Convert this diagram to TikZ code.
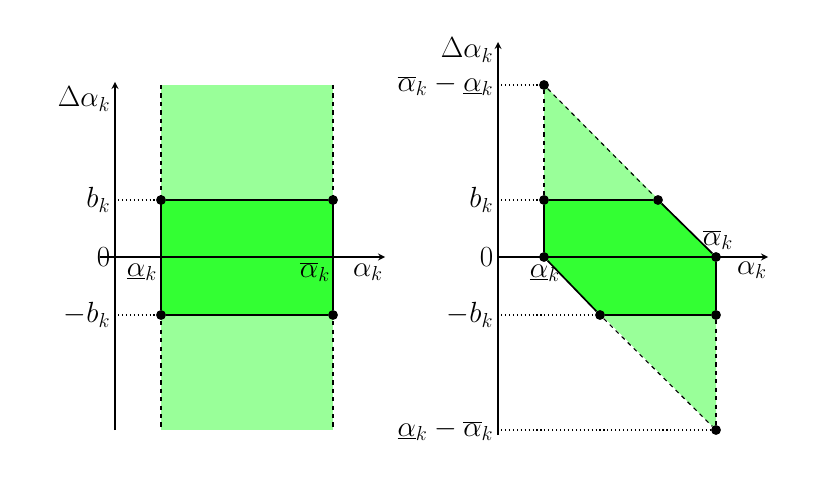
\documentclass[tikz,border=0pt]{standalone}
\definecolor{lightg}{HTML}{99FF99}
\definecolor{darkg}{HTML}{33FF33}
\tikzset{
  dot/.style={circle,fill=black,inner sep=0pt,minimum size=7pt},
  ax/.style={line width=1.2pt,->,>=stealth},
  edge/.style={line width=1.2pt},
  dedge/.style={dashed,line width=0.8pt},
  guide/.style={dotted,line width=0.8pt},
  lab/.style={font=\fontsize{21}{24}\selectfont,inner sep=1pt}
}
\begin{document}
\begin{tikzpicture}[x=0.025cm,y=-0.025cm]
\useasboundingbox (0,0) rectangle (820,484);
% ---------- left panel ----------
\fill[lightg] (161,85) rectangle (333,430);
\fill[darkg] (161,200) rectangle (333,315);
\coordinate (L1) at (161,85); \coordinate (L2) at (161,430);
\coordinate (R1) at (333,85); \coordinate (R2) at (333,430);
\draw[dedge] (L1) -- (L2);
\draw[dedge] (R1) -- (R2);
\node[dot] (a) at (161,200) {};
\node[dot] (b) at (333,200) {};
\node[dot] (c) at (333,315) {};
\node[dot] (d) at (161,315) {};
\draw[edge] (a) -- (b) -- (c) -- (d) -- (a);
\coordinate (ya0) at (115,430); \coordinate (ya1) at (115,82);
\coordinate (xa0) at (100,257); \coordinate (xa1) at (385,257);
\draw[ax] (ya0) -- (ya1);
\draw[ax] (xa0) -- (xa1);
\coordinate (tb) at (118,200); \coordinate (tmb) at (118,315);
\draw[guide] (tb) -- (a);
\draw[guide] (tmb) -- (d);
\node[lab,anchor=east] (lbk) at (112,200) {$b_k$};
\node[lab,anchor=east] (l0) at (112,257) {$0$};
\node[lab,anchor=east] (lmbk) at (112,315) {$-b_k$};
\node[lab,anchor=east] (lda) at (112,99) {$\Delta\alpha_k$};
\node[lab] (lal) at (142,272) {$\underline{\alpha}_k$};
\node[lab] (lau) at (315,272) {$\overline{\alpha}_k$};
\node[lab] (lax) at (368,272) {$\alpha_k$};
% ---------- right panel ----------
\fill[lightg] (544,85) -- (716,257) -- (716,430) -- (544,257) -- cycle;
\fill[darkg] (544,200) -- (658,200) -- (716,257) -- (716,315) -- (600,315) -- (544,257) -- cycle;
\node[dot] (p1) at (544,85) {};
\node[dot] (p2) at (544,200) {};
\node[dot] (p3) at (658,200) {};
\node[dot] (p4) at (716,257) {};
\node[dot] (p5) at (716,315) {};
\node[dot] (p6) at (600,315) {};
\node[dot] (p7) at (544,257) {};
\node[dot] (p8) at (716,430) {};
\draw[dedge] (p1) -- (p2);
\draw[dedge] (p1) -- (p3);
\draw[dedge] (p5) -- (p8);
\draw[dedge] (p6) -- (p8);
\draw[edge] (p2) -- (p3) -- (p4) -- (p5) -- (p6) -- (p7) -- (p2);
\coordinate (yb0) at (498,435); \coordinate (yb1) at (498,42);
\coordinate (xb0) at (498,257); \coordinate (xb1) at (768,257);
\draw[ax] (yb0) -- (yb1);
\draw[ax] (xb0) -- (xb1);
\coordinate (g1) at (501,85); \coordinate (g2) at (501,200);
\coordinate (g3) at (501,315); \coordinate (g4) at (501,430);
\draw[guide] (g1) -- (p1);
\draw[guide] (g2) -- (p2);
\draw[guide] (g3) -- (p6);
\draw[guide] (g4) -- (p8);
\node[lab,anchor=east] (rt) at (495,85) {$\overline{\alpha}_k-\underline{\alpha}_k$};
\node[lab,anchor=east] (rbk) at (495,200) {$b_k$};
\node[lab,anchor=east] (r0) at (495,257) {$0$};
\node[lab,anchor=east] (rmbk) at (495,315) {$-b_k$};
\node[lab,anchor=east] (rbt) at (495,430) {$\underline{\alpha}_k-\overline{\alpha}_k$};
\node[lab,anchor=east] (rda) at (495,50) {$\Delta\alpha_k$};
\node[lab] (ral) at (545,273) {$\underline{\alpha}_k$};
\node[lab] (rau) at (718,240) {$\overline{\alpha}_k$};
\node[lab] (rax) at (752,270) {$\alpha_k$};
\end{tikzpicture}
\end{document}
